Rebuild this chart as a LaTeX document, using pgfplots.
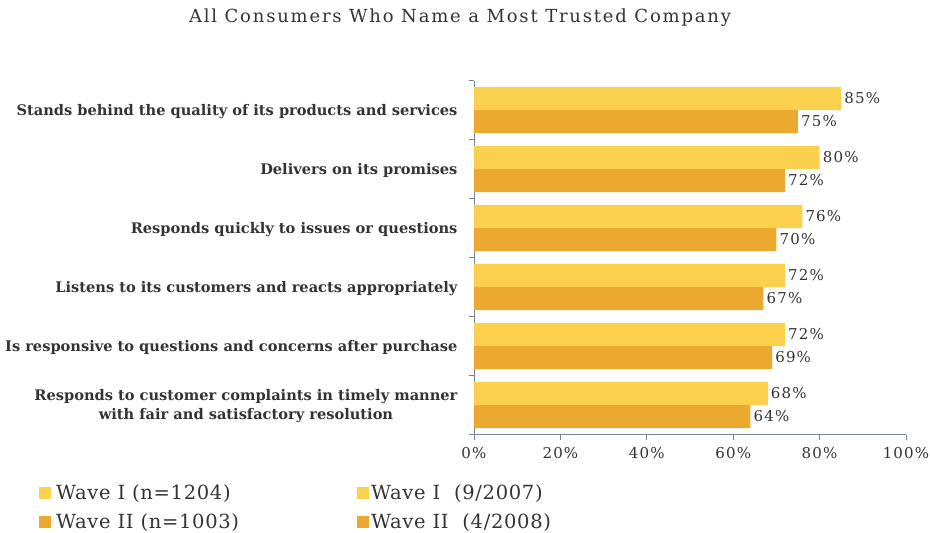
\documentclass[border=0pt]{standalone}
\usepackage{pgfplots}
\pgfplotsset{compat=1.18}
\usepackage{fontspec}
\setmainfont{DejaVu Serif}
\definecolor{wa}{HTML}{FAD04C}
\definecolor{wb}{HTML}{EBAA2F}
\definecolor{axc}{HTML}{7A8299}
\definecolor{tx}{HTML}{333333}
\newcommand{\numfont}{\fontsize{15}{17}\selectfont\addfontfeatures{LetterSpace=8}}
\begin{document}
\begin{tikzpicture}
\path[use as bounding box] (0,0) rectangle (930pt,-533pt);
\node[font=\fontsize{18}{20}\selectfont\addfontfeatures{LetterSpace=10}, text=tx] at (460pt,-18pt) {All Consumers Who Name a Most Trusted Company};
\begin{axis}[
  at={(474pt,-434.5pt)}, anchor=south west,
  scale only axis, width=432pt, height=354pt,
  xmin=0, xmax=100, ymin=-0.5, ymax=5.5,
  /pgf/number format/assume math mode=true,
  axis x line*=bottom, axis y line*=left,
  axis line style={axc, line width=0.8pt},
  tick align=outside, major tick length=5pt, minor tick length=5pt,
  tick style={axc, line width=0.8pt},
  major y tick style={draw=none},
  xtick={0,20,...,100},
  xticklabel={\pgfmathprintnumber{\tick}\%},
  xticklabel style={font=\numfont, text=tx, yshift=-4pt},
  ytick={0,...,5},
  minor ytick={-0.5,0.5,...,5.5},
  yticklabels={{Responds to customer complaints in timely manner\\with fair and satisfactory resolution},
    Is responsive to questions and concerns after purchase,
    Listens to its customers and reacts appropriately,
    Responds quickly to issues or questions,
    Delivers on its promises,
    Stands behind the quality of its products and services},
  yticklabel style={font=\bfseries\fontsize{14.6}{19}\selectfont, text=tx, align=center, xshift=-8pt, yshift=-1.5pt},
  point meta=x,
  nodes near coords={\pgfmathprintnumber{\pgfplotspointmeta}\%},
  nodes near coords style={anchor=west, font=\numfont, text=tx, inner sep=3pt},
  legend columns=2,
  legend style={at={(-1.014,-0.131)}, anchor=north west, draw=none, fill=none,
    font=\fontsize{19.5}{21}\selectfont\addfontfeatures{LetterSpace=3.5}, text=tx, row sep=8pt},
  legend cell align=left,
  legend image code/.code={\path[fill] (0pt,-6pt) rectangle (12pt,6pt);},
]
\addplot[xbar, bar width=0.39, bar shift=0.195, fill=wa, draw=none, forget plot,
  nodes near coords style={yshift=11.5pt}]
  coordinates {(85,5) (80,4) (76,3) (72,2) (72,1) (68,0)};
\addplot[xbar, bar width=0.39, bar shift=-0.195, fill=wb, draw=none, forget plot,
  nodes near coords style={yshift=-11.5pt}]
  coordinates {(75,5) (72,4) (70,3) (67,2) (69,1) (64,0)};
\addlegendimage{fill=wa, draw=none}
\addlegendentry{\makebox[302pt][l]{\hspace{3pt}Wave I (n=1204)}}
\addlegendimage{fill=wa, draw=none}
\addlegendentry{Wave I\ \ (9/2007)}
\addlegendimage{fill=wb, draw=none}
\addlegendentry{\makebox[302pt][l]{\hspace{3pt}Wave II (n=1003)}}
\addlegendimage{fill=wb, draw=none}
\addlegendentry{Wave II\ \ (4/2008)}
\end{axis}
\end{tikzpicture}
\end{document}
